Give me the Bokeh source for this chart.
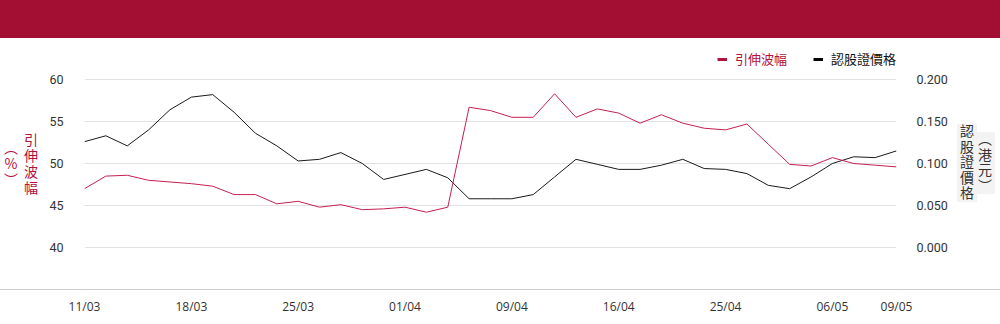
import numpy as np
from bokeh.plotting import figure
from bokeh.models import (Range1d, LinearAxis, FixedTicker, NumeralTickFormatter,
                          Legend, LegendItem, Div, ColumnDataSource)
from bokeh.layouts import column, row
from bokeh.embed import file_html
from bokeh.resources import INLINE

# ---------------- data ----------------
dates = ["11/03", "12/03", "13/03", "14/03", "17/03", "18/03", "19/03", "20/03", "21/03",
         "24/03", "25/03", "26/03", "27/03", "28/03", "31/03", "01/04", "02/04", "03/04",
         "07/04", "08/04", "09/04", "10/04", "11/04", "14/04", "15/04", "16/04", "17/04",
         "22/04", "23/04", "24/04", "25/04", "28/04", "29/04", "30/04", "02/05", "06/05",
         "07/05", "08/05", "09/05"]
implied_vol = [47.0, 48.5, 48.6, 48.0, 47.8, 47.6, 47.3, 46.3, 46.3, 45.2, 45.5, 44.8, 45.1,
               44.5, 44.6, 44.8, 44.2, 44.8, 56.7, 56.3, 55.5, 55.5, 58.3, 55.5, 56.5, 56.0,
               54.8, 55.8, 54.8, 54.2, 54.0, 54.7, 52.3, 49.9, 49.7, 50.7, 50.0, 49.8, 49.6]
warrant_price = [0.126, 0.133, 0.121, 0.140, 0.164, 0.179, 0.182, 0.161, 0.136, 0.121, 0.103,
                 0.105, 0.113, 0.100, 0.081, 0.087, 0.093, 0.083, 0.058, 0.058, 0.058, 0.063,
                 0.084, 0.105, 0.099, 0.093, 0.093, 0.098, 0.105, 0.094, 0.093, 0.088, 0.074,
                 0.070, 0.084, 0.100, 0.108, 0.107, 0.115]
x_tick_index = [0, 5, 10, 15, 20, 25, 30, 35, 38]
left_ticks = [40, 45, 50, 55, 60]
right_ticks = [0.0, 0.05, 0.10, 0.15, 0.20]
series_names = ["引伸波幅", "認股證價格"]
left_title = ["引伸波幅", "（%）"]
right_title = ["認股證價格", "（港元）"]

RED = "#B3123F"
LINE_RED = "#C42050"
BLACK = "#1a1a1a"
TICK_FONT = "Roboto"
CJK = "Noto Sans CJK TC"

idx = list(range(len(dates)))
src = ColumnDataSource(dict(x=idx, iv=implied_vol, price=warrant_price))

# frame: x 84..896 (812px), y 38..289 (251px) in window coords
LEFT_W, RIGHT_W = 45, 45
n_int = len(dates) - 1
y_lo, px_per_y = 35.0, 8.4
p = figure(width=1000 - LEFT_W - RIGHT_W, height=286, output_backend="svg", toolbar_location=None,
           x_range=Range1d(0, n_int), y_range=Range1d(y_lo, y_lo + 251 / px_per_y),
           min_border_left=84 - LEFT_W, min_border_right=1000 - RIGHT_W - 896,
           min_border_top=0, min_border_bottom=35,
           outline_line_color=None, background_fill_color="white",
           border_fill_color=None, border_fill_alpha=0)
p.margin = 0
p.extra_y_ranges = {"price": Range1d(-0.05, -0.05 + 251 / 840)}

# grids
p.xgrid.visible = False
p.ygrid.grid_line_color = "#e2e2e2"
p.ygrid.grid_line_width = 1
p.yaxis.ticker = FixedTicker(ticks=left_ticks)

def style_axis(a, standoff, font, size):
    a.axis_line_color = None
    a.major_tick_line_color = None
    a.minor_tick_line_color = None
    a.major_tick_out = 0
    a.major_tick_in = 0
    a.minor_tick_out = 0
    a.minor_tick_in = 0
    a.major_label_standoff = standoff
    a.major_label_text_font = font
    a.major_label_text_font_size = size
    a.major_label_text_color = "#333333"

style_axis(p.yaxis[0], 21, TICK_FONT, "12.5px")

rax = LinearAxis(y_range_name="price", ticker=FixedTicker(ticks=right_ticks),
                 formatter=NumeralTickFormatter(format="0.000"))
style_axis(rax, 20, TICK_FONT, "12.5px")
p.add_layout(rax, "right")

xa = p.xaxis[0]
xa.ticker = FixedTicker(ticks=x_tick_index)
xa.major_label_overrides = {i: dates[i] for i in x_tick_index}
style_axis(xa, 8, "Open Sans", "12px")
xa.axis_line_color = "#cccccc"

# lines
p.line("x", "price", source=src, y_range_name="price", line_color=BLACK, line_width=1)
p.line("x", "iv", source=src, line_color=LINE_RED, line_width=1)

# legend dummies (one NaN point so that the glyph visuals exist)
dummy = ColumnDataSource(dict(x=[float("nan")], y=[float("nan")]))
d_red = p.line("x", "y", source=dummy, line_color=RED, line_width=3)
d_blk = p.line("x", "y", source=dummy, line_color="#000000", line_width=3)
for rend, name, col, loc in [(d_red, series_names[0], RED, (633, 221)),
                             (d_blk, series_names[1], "#111111", (729, 221))]:
    lg = Legend(items=[LegendItem(label=name, renderers=[rend])], location=loc,
                orientation="horizontal", padding=0, margin=0, spacing=0,
                glyph_width=10, glyph_height=18, label_height=18, label_standoff=8,
                border_line_color=None, background_fill_alpha=0,
                label_text_font=CJK, label_text_font_size="13px", label_text_color=col)
    p.add_layout(lg)

# vertical CJK axis titles as HTML (CSS vertical writing)
left_html = (
    '<div style="position:relative;width:%dpx;height:286px;">'
    '<div style="position:absolute;left:1px;top:94px;width:40px;height:66px;'
    'writing-mode:vertical-rl;text-orientation:upright;text-align:center;'
    "font-family:'%s';font-size:14px;line-height:20px;letter-spacing:2px;color:%s;\">"
    '%s%s</div></div>' % (LEFT_W, CJK, RED, left_title[0], left_title[1]))
right_html = (
    '<div style="position:relative;width:%dpx;height:286px;">'
    '<div style="position:absolute;left:3px;top:85px;width:36px;height:80px;'
    'writing-mode:vertical-lr;text-orientation:upright;text-align:center;'
    "font-family:'%s';font-size:14px;line-height:18px;letter-spacing:1.5px;color:#333333;\">"
    '<span style="background:#f3f3f3;">%s%s</span></div></div>'
    % (RIGHT_W, CJK, right_title[0], right_title[1]))
left_div = Div(text=left_html, width=LEFT_W, height=286, margin=0)
right_div = Div(text=right_html, width=RIGHT_W, height=286, margin=0)

header = Div(text="", width=1000, height=38, margin=0,
             styles={"background-color": "#A30E33"})
body = row(left_div, p, right_div, spacing=0, margin=0,
           styles={"background": "linear-gradient(#cccccc,#cccccc) 0 251px / 100% 1px no-repeat"})
layout = column(header, body, spacing=0, margin=0)

open("out.html", "w").write(file_html(layout, INLINE))
